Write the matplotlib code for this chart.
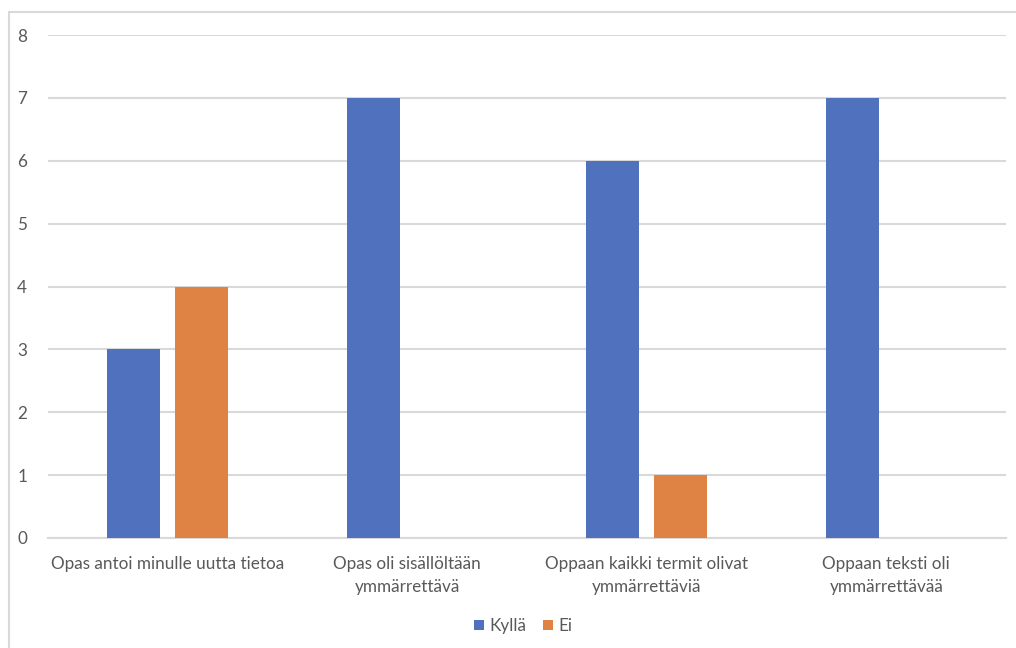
import numpy as np
import matplotlib
matplotlib.use("Agg")
import matplotlib.pyplot as plt
from matplotlib.patches import Rectangle

# survey answers per statement
categories = ["Opas antoi minulle uutta tietoa",
              "Opas oli sisällöltään\nymmärrettävä",
              "Oppaan kaikki termit olivat\nymmärrettäviä",
              "Oppaan teksti oli\nymmärrettävää"]
kylla = [3, 7, 6, 7]
ei = [4, 0, 1, 0]
series_names = ["Kyllä", "Ei"]

BLUE = "#4F71BE"
ORANGE = "#DF8344"
GRID = "#D9D9D9"
TEXT = "#595959"
FS = 12.3

plt.rcParams["font.family"] = ["Lato", "DejaVu Sans"]

fig = plt.figure(figsize=(10.16, 6.48), dpi=100)
ax = fig.add_axes([48 / 1016, 110 / 648, (1006 - 48) / 1016, (538 - 35) / 648])

x = np.arange(len(categories))
w = 0.222
off = 0.142
ax.bar(x - off, kylla, w, color=BLUE, label=series_names[0], zorder=3)
ax.bar(x + off, ei, w, color=ORANGE, label=series_names[1], zorder=3)

ax.set_xlim(-0.5, len(categories) - 0.5)
ax.set_ylim(0, 8)
ax.set_yticks(range(0, 9))
ax.yaxis.grid(True, color=GRID, linewidth=1.5, zorder=0)
ax.set_xticks(x)
ax.set_xticklabels(categories, fontsize=FS, color=TEXT, linespacing=1.5)
ax.tick_params(axis="x", length=0, pad=13)
ax.tick_params(axis="y", length=0, pad=15, labelsize=FS, labelcolor=TEXT)
for s in ["top", "right", "left"]:
    ax.spines[s].set_visible(False)
ax.spines["bottom"].set_color(GRID)
ax.spines["bottom"].set_linewidth(1.5)

leg = fig.legend(loc="center", bbox_to_anchor=(523 / 1016, 1 - 626 / 648), ncol=2,
                 frameon=False, fontsize=FS, handlelength=0.6, handleheight=0.6,
                 handletextpad=0.3, columnspacing=1.0)
for t in leg.get_texts():
    t.set_color(TEXT)

# chart area outline
fig.patches.append(Rectangle((9 / 1016, -0.1), 1.2, 1 - 12 / 648 + 0.1,
                             transform=fig.transFigure, fill=False,
                             edgecolor=GRID, linewidth=1.5))

fig.savefig("out.png", dpi=100)
